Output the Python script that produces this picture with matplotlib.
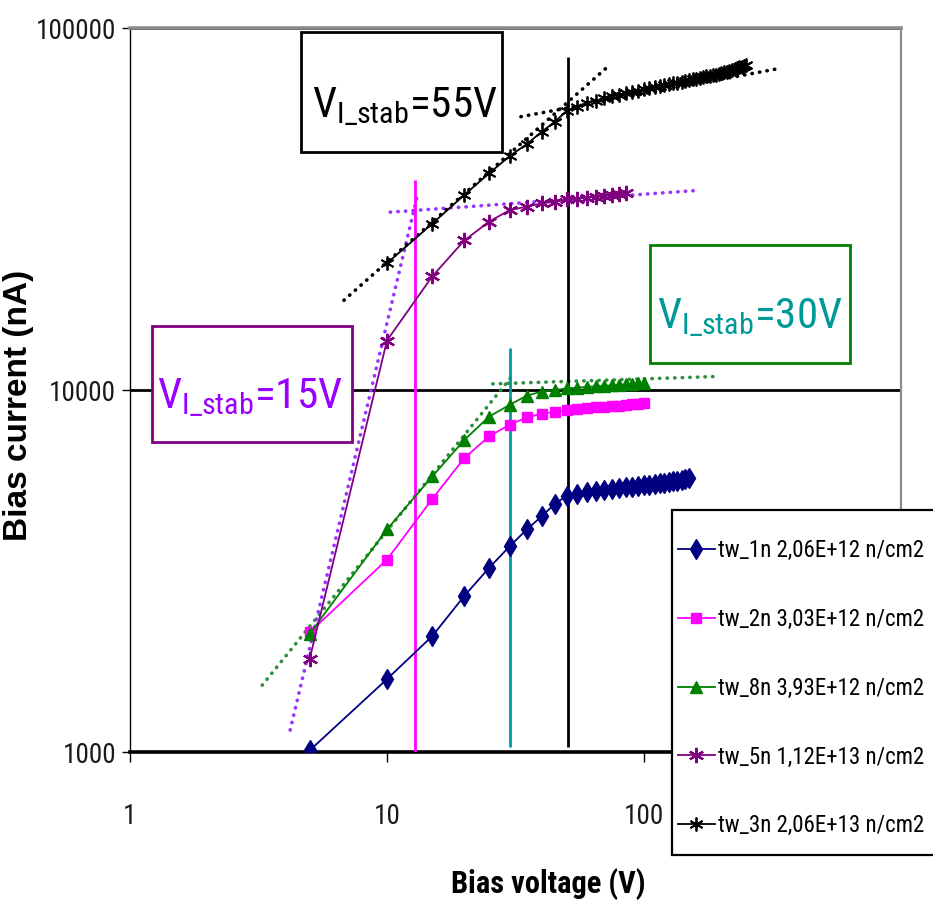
import matplotlib
matplotlib.use("Agg")
import matplotlib.pyplot as plt
from matplotlib import font_manager
from matplotlib.font_manager import FontProperties
from matplotlib.patches import Rectangle
from matplotlib.ticker import FixedLocator, FixedFormatter, NullLocator


def _is_bold(entry):
    w = entry.weight
    if isinstance(w, str):
        return w in ("bold", "heavy", "black", "demibold", "semibold", "extra bold")
    return w >= 600


def narrow_font(bold=False):
    # prefer a condensed sans face, fall back to the regular sans
    prefs = ["Liberation Sans Narrow", "Arial Narrow", "Roboto Condensed",
             "Noto Sans", "Open Sans", "DejaVu Sans"]
    best = None
    for entry in font_manager.fontManager.ttflist:
        if entry.style != "normal" or _is_bold(entry) != bold:
            continue
        narrow = ("Narrow" in entry.name or "Condensed" in entry.name
                  or str(entry.stretch) in ("condensed", "semi-condensed"))
        if not narrow:
            continue
        for rank, fam in enumerate(prefs):
            if entry.name.startswith(fam):
                if best is None or rank < best[0]:
                    best = (rank, entry.fname)
                break
    if best:
        return FontProperties(fname=best[1])
    return FontProperties(family="Liberation Sans", weight="bold" if bold else "normal")


NARROW = narrow_font()
NARROW_BOLD = narrow_font(bold=True)

# --- measured bias current (nA) vs bias voltage (V) ---
v_tw1 = [5, 10, 15, 20, 25, 30, 35, 40, 45, 50, 55, 60, 65, 70, 75, 80, 85, 90, 95, 100,
         105, 110, 115, 120, 125, 130, 135, 140, 145, 150]
i_tw1 = [1010, 1590, 2090, 2700, 3230, 3700, 4120, 4480, 4850, 5100, 5170, 5220, 5260, 5300,
         5330, 5360, 5390, 5410, 5440, 5460, 5480, 5500, 5520, 5540, 5570, 5600, 5620, 5650,
         5670, 5700]

v_tw2 = [5, 10, 15, 20, 25, 30, 35, 40, 45, 50, 55, 60, 65, 70, 75, 80, 85, 90, 95, 100]
i_tw2 = [2140, 3400, 5000, 6490, 7450, 8020, 8400, 8600, 8700, 8800, 8850, 8900, 8950, 9000,
         9030, 9060, 9100, 9130, 9160, 9200]

v_tw8 = [5, 10, 15, 20, 25, 30, 35, 40, 45, 50, 55, 60, 65, 70, 75, 80, 85, 90, 95, 100]
i_tw8 = [2120, 4120, 5770, 7280, 8450, 9100, 9650, 9900, 10000, 10100, 10150, 10200, 10230,
         10260, 10300, 10330, 10360, 10400, 10430, 10470]

v_tw5 = [5, 10, 15, 20, 25, 30, 35, 40, 45, 50, 55, 60, 65, 70, 75, 80, 85]
i_tw5 = [1805, 13700, 20600, 25900, 29200, 31400, 32100, 32800, 33100, 33600, 33800, 34000,
         34200, 34400, 34600, 34800, 35000]

v_tw3 = [10, 15, 20, 25, 30, 35, 40, 45, 50, 55, 60, 65, 70, 75, 80, 85, 90, 95, 100, 105,
         110, 115, 120, 125, 130, 135, 140, 145, 150, 155, 160, 165, 170, 175, 180, 185, 190,
         195, 200, 205, 210, 215, 220, 225, 230, 235, 240, 245, 250]
i_tw3 = [22400, 28800, 34600, 39700, 44300, 47800, 51700, 55100, 59000, 60700, 62000, 63000,
         63900, 64700, 65400, 66000, 66600, 67200, 67700, 68200, 68700, 69100, 69500, 69900,
         70300, 70700, 71000, 71400, 71800, 72100, 72500, 72800, 73200, 73500, 73800, 74100,
         74400, 74700, 75000, 75400, 75800, 76200, 76600, 77000, 77400, 77800, 78200, 78600,
         79000]

labels = ["tw_1n 2,06E+12 n/cm2", "tw_2n 3,03E+12 n/cm2", "tw_8n 3,93E+12 n/cm2",
          "tw_5n 1,12E+13 n/cm2", "tw_3n 2,06E+13 n/cm2"]

# power-law fits below / above the stabilisation voltage: (V start, V end), (I start, I end)
fit_green_low = ([3.27, 31.2], [1530, 11100])
fit_green_high = ([25.8, 191], [10400, 10900])
fit_purple_low = ([4.2, 13.2], [1150, 35000])
fit_purple_high = ([10.3, 162], [31000, 35600])
fit_black_low = ([6.8, 72], [17700, 78000])
fit_black_high = ([33.2, 342], [56900, 77500])

# stabilisation markers
stab_v = [12.9, 30, 50.5]
stab_top = [38000, 13100, 83400]
stab_bottom = [1000, 1030, 1030]
stab_colors = ["#ff00ff", "#009999", "black"]
stab_text = ["15V", "30V", "55V"]

x_ticks = [1, 10, 100]
y_ticks = [1000, 10000, 100000]

fig = plt.figure(figsize=(9.33, 9.13), dpi=100)
ax = fig.add_axes([0.1393, 0.1763, 0.8264, 0.7930])
ax.set_xscale("log")
ax.set_yscale("log")
ax.set_xlim(1, 1000)
ax.set_ylim(1000, 100000)

# dotted fit lines
dots = dict(ls=(0, (0.1, 2.0)), lw=2.6, dash_capstyle="round", zorder=3)
ax.plot(*fit_green_low, color="#2f8f3f", **dots)
ax.plot(*fit_green_high, color="#2f8f3f", **dots)
ax.plot(*fit_purple_low, color="#9933ff", **dots)
ax.plot(*fit_purple_high, color="#9933ff", **dots)
ax.plot(*fit_black_low, color="black", **dots)
ax.plot(*fit_black_high, color="black", **dots)

# data series
ax.plot(v_tw1, i_tw1, color="#000080", lw=1.3, marker="d", ms=10.5, label=labels[0], zorder=4)
ax.plot(v_tw2, i_tw2, color="#ff00ff", lw=1.3, marker="s", ms=7.5, label=labels[1], zorder=4)
ax.plot(v_tw8, i_tw8, color="#008000", lw=1.3, marker="^", ms=8.5, label=labels[2], zorder=4)
ax.plot(v_tw5, i_tw5, color="#800080", lw=1.3, marker=(6, 2, 0), ms=11, mew=1.6,
        label=labels[3], zorder=4)
ax.plot(v_tw3, i_tw3, color="black", lw=1.3, marker=(6, 2, 0), ms=10, mew=1.3,
        label=labels[4], zorder=4)

ax.vlines(stab_v, stab_bottom, stab_top, colors=stab_colors, lw=2, zorder=3.5)

# axes frame and grid
ax.spines["left"].set_linewidth(1.0)
ax.spines["bottom"].set_linewidth(2.6)
ax.spines["top"].set_color("#8c8c8c")
ax.spines["top"].set_linewidth(2.6)
ax.spines["right"].set_color("#8c8c8c")
ax.spines["right"].set_linewidth(1.6)
ax.grid(axis="y", which="major", color="black", lw=2)
ax.set_axisbelow(True)

ax.xaxis.set_major_locator(FixedLocator(x_ticks))
ax.xaxis.set_major_formatter(FixedFormatter([str(t) for t in x_ticks]))
ax.yaxis.set_major_locator(FixedLocator(y_ticks))
ax.yaxis.set_major_formatter(FixedFormatter([str(t) for t in y_ticks]))
ax.xaxis.set_minor_locator(NullLocator())
ax.yaxis.set_minor_locator(NullLocator())
ax.tick_params(axis="x", direction="out", length=7, width=1, pad=30, labelcolor="#1a1a1a")
ax.tick_params(axis="y", direction="out", length=6, width=1, pad=4, labelcolor="#1a1a1a")
for lab in ax.get_xticklabels() + ax.get_yticklabels():
    lab.set_fontproperties(NARROW)
    lab.set_fontsize(19.5)

ax.set_xlabel("Bias voltage (V)", fontproperties=NARROW_BOLD, fontsize=22)
ax.xaxis.set_label_coords(0.542, -0.160)
ax.set_ylabel("Bias current (nA)", family="Liberation Sans", fontsize=24, fontweight="bold")
ax.yaxis.set_label_coords(-0.125, 0.479)

# V_I_stab boxes: (x, y, w, h) in axes fraction, edge colour, text colour, text anchor
boxes = [
    ((0.222, 0.829, 0.261, 0.166), "black", "black", (0.3567, 0.877), stab_text[2]),
    ((0.0285, 0.428, 0.2594, 0.160), "#800080", "#9900ff", (0.1556, 0.475), stab_text[0]),
    ((0.6744, 0.537, 0.2594, 0.163), "#008000", "#009999", (0.804, 0.586), stab_text[1]),
]
for (bx, by, bw, bh), edge, tcol, (tx, ty), value in boxes:
    ax.add_patch(Rectangle((bx, by), bw, bh, transform=ax.transAxes, facecolor="white",
                           edgecolor=edge, lw=2, zorder=6, clip_on=False))
    ax.text(tx, ty, r"$\mathregular{V_{I\_stab}}$=" + value, transform=ax.transAxes,
            ha="center", va="baseline", fontproperties=NARROW, fontsize=31,
            color=tcol, zorder=7)

# legend frame runs past the right edge of the figure
ax.add_patch(Rectangle((672 / 933, 1 - 855 / 913), 280 / 933, 345 / 913,
                       transform=fig.transFigure, facecolor="white", edgecolor="black",
                       lw=1.6, zorder=8, clip_on=False))
legend_font = NARROW.copy()
legend_font.set_size(16.5)
leg = ax.legend(loc="upper left", bbox_to_anchor=(678 / 933, 1 - 539 / 913),
                bbox_transform=fig.transFigure, prop=legend_font,
                labelspacing=2.0, borderpad=0, handlelength=1.6, handletextpad=0.15,
                borderaxespad=0, frameon=False)
leg.set_zorder(9)

fig.savefig("out.png", dpi=100)
